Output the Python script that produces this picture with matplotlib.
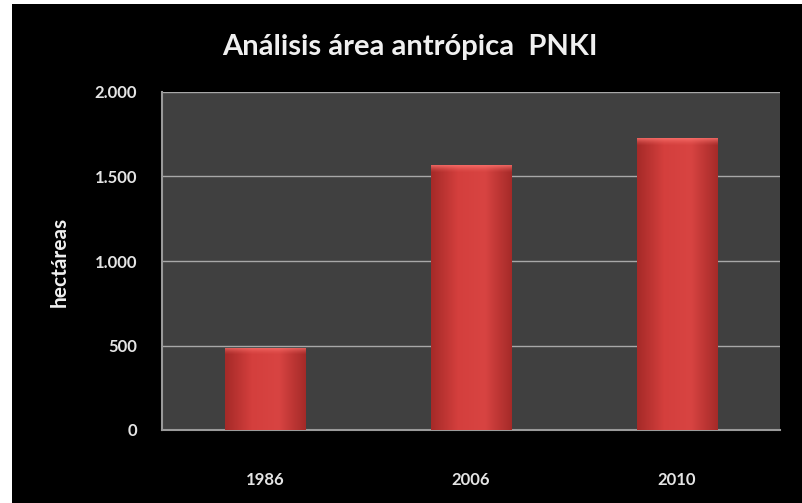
import matplotlib
matplotlib.use("Agg")
import matplotlib.pyplot as plt
import numpy as np
from matplotlib.patches import Rectangle
from matplotlib.ticker import FuncFormatter
from matplotlib.colors import LinearSegmentedColormap

years = ["1986", "2006", "2010"]
hectareas = [487, 1567, 1727]
yticks = [0, 500, 1000, 1500, 2000]
title = "Análisis área antrópica  PNKI"
ylabel = "hectáreas"

plt.rcParams['font.family'] = ['Lato', 'DejaVu Sans']

W, H = 802, 503
fig = plt.figure(figsize=(W / 100, H / 100), dpi=100, facecolor="white")
fig.patches.append(Rectangle((12 / W, 0), 1 - 12 / W, 1 - 4 / H, transform=fig.transFigure,
                             facecolor="black", edgecolor="none", zorder=-5))

ax = fig.add_axes([162 / W, (H - 430) / H, (780 - 162) / W, (430 - 92) / H])
ax.set_facecolor("#404040")

x = np.arange(len(years))
bars = ax.bar(x, hectareas, width=0.39, color="#cc3a38", edgecolor="none", zorder=3)

# horizontal gradient inside each bar
cmap = LinearSegmentedColormap.from_list("g", ["#a52a28", "#d43f3d", "#d84442", "#a52a28"])
grad = np.linspace(0, 1, 256).reshape(1, -1)
# vertical highlight (top of the bar), RGBA fading downwards
hl = np.zeros((32, 1, 4))
hl[..., 0] = 1.0
hl[..., 1] = 0.47
hl[..., 2] = 0.45
hl[:, 0, 3] = np.linspace(0.0, 0.85, 32) ** 1.5
for b in bars:
    x0, w, h = b.get_x(), b.get_width(), b.get_height()
    im = ax.imshow(grad, extent=[x0, x0 + w, 0, h], aspect="auto", cmap=cmap, zorder=3.5)
    im.set_clip_path(b)
    im2 = ax.imshow(hl, extent=[x0, x0 + w, h - 45, h], aspect="auto", origin="lower",
                    zorder=4, interpolation="bilinear")
    im2.set_clip_path(b)

ax.set_xlim(-0.5, len(years) - 0.5)
ax.set_ylim(0, 2000)
ax.set_yticks(yticks)
ax.yaxis.set_major_formatter(FuncFormatter(lambda v, p: f"{int(v):,}".replace(",", ".")))
ax.set_xticks(x)
ax.set_xticklabels(years)
ax.grid(axis="y", color="#a8a8a8", linewidth=1.0, zorder=1)
ax.set_axisbelow(True)

for s in ["top", "right"]:
    ax.spines[s].set_visible(False)
for s in ["left", "bottom"]:
    ax.spines[s].set_color("#9a9a9a")
    ax.spines[s].set_linewidth(1.5)

ax.tick_params(axis="both", length=0, colors="#e4e4e4", labelsize=12)
ax.tick_params(axis="x", pad=30)
ax.tick_params(axis="y", pad=18)
for lab in ax.get_xticklabels() + ax.get_yticklabels():
    lab.set_fontweight("bold")

fig.text(60 / W, 1 - 262 / H, ylabel, rotation=90, ha="center", va="center",
         color="#f0f0f0", fontsize=15, fontweight="bold")
fig.text(410 / W, 1 - 47 / H, title, ha="center", va="center",
         color="#f0f0f0", fontsize=21, fontweight="bold")

fig.savefig("out.png", dpi=100, facecolor=fig.get_facecolor())
